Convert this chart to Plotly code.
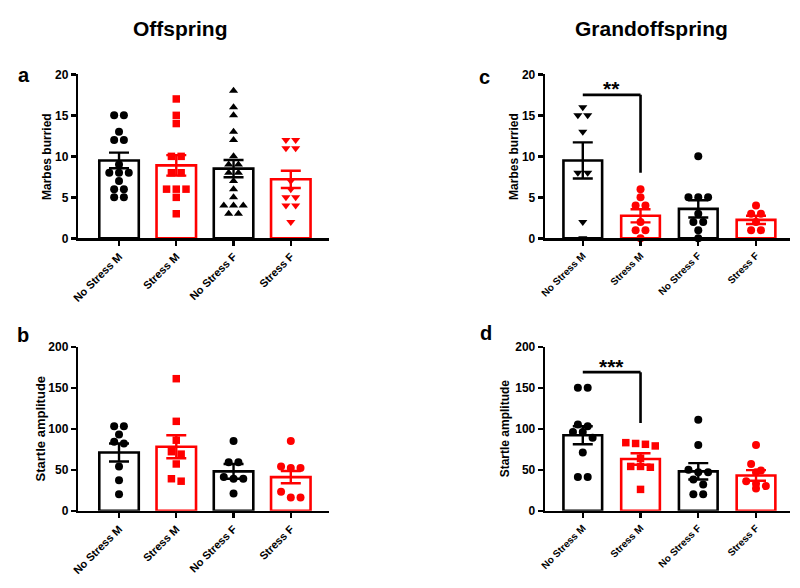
import plotly.graph_objects as go

# ---------------- data ----------------
groups = ["No Stress M", "Stress M", "No Stress F", "Stress F"]

# Panel a: Offspring, marbles buried
a_nsm = [15, 15, 13, 12, 12, 9, 8, 8, 8, 7, 6, 6, 5, 5]
a_sm = [17, 15, 14, 10, 10, 8, 8, 6, 6, 6, 5, 3]
a_nsf = [18, 16, 15, 13, 12, 10, 9, 9, 8, 8, 7, 6, 5, 4, 4, 4, 3, 3]
a_sf = [12, 12, 11, 11, 7, 6, 5, 5, 4, 4, 2]
a_mean = [9.5, 8.9, 8.5, 7.2]
a_sem = [0.95, 1.25, 1.05, 1.05]

# Panel b: Offspring, startle amplitude
b_nsm = [103, 103, 93, 84, 82, 54, 37, 20]
b_sm = [161, 109, 86, 72, 69, 57, 39, 36]
b_nsf = [85, 59, 59, 41, 39, 39, 21]
b_sf = [85, 54, 52, 52, 23, 16, 16]
b_mean = [71, 78, 48, 41]
b_sem = [11, 14, 9, 7.5]

# Panel c: Grandoffspring, marbles buried
c_nsm = [16, 15, 15, 13, 8, 8, 2, 0]
c_sm = [6, 5, 4, 4, 2, 1, 1, 0]
c_nsf = [10, 5, 5, 5, 3, 2, 2, 1, 0]
c_sf = [4, 3, 3, 2, 1, 1]
c_mean = [9.5, 2.75, 3.6, 2.25]
c_sem = [2.2, 0.8, 1.05, 0.5]

# Panel d: Grandoffspring, startle amplitude
d_nsm = [150, 150, 105, 103, 96, 96, 89, 71, 41, 41]
d_sm = [83, 82, 81, 79, 64, 54, 54, 53, 26]
d_nsf = [111, 80, 50, 47, 47, 38, 32, 20, 20]
d_sf = [80, 57, 49, 47, 36, 33, 30, 27]
d_mean = [92, 63, 48, 43]
d_sem = [11, 7, 10, 6.5]

# significance brackets: (from group, to group, height, drop-to, label)
c_sig = (0, 1, 17.5, 8, "**")
d_sig = (0, 1, 169, 107, "***")

# ---------------- styling ----------------
BLACK = "#000000"
RED = "#ff0000"
colors = [BLACK, RED, BLACK, RED]
FONT = "Liberation Sans, Arial, sans-serif"

def swarm(vals, tol, step):
    order = sorted(range(len(vals)), key=lambda i: -vals[i])
    offs = [0.0] * len(vals)
    clusters = []
    for i in order:
        if clusters and clusters[-1][0] - vals[i] < tol:
            clusters[-1][1].append(i)
        else:
            clusters.append([vals[i], [i]])
    for _, idx in clusters:
        n = len(idx)
        for k, i in enumerate(idx):
            offs[i] = (k - (n - 1) / 2) * step
    return offs

fig = go.Figure()

panels = [
    dict(xa="x", ya="y", data=[a_nsm, a_sm, a_nsf, a_sf], mean=a_mean, sem=a_sem,
         sym=["circle", "square", "triangle-up", "triangle-down"], tol=0.9, bw=0.69),
    dict(xa="x2", ya="y2", data=[c_nsm, c_sm, c_nsf, c_sf], mean=c_mean, sem=c_sem,
         sym=["triangle-down", "circle", "circle", "circle"], tol=0.9, bw=0.67),
    dict(xa="x3", ya="y3", data=[b_nsm, b_sm, b_nsf, b_sf], mean=b_mean, sem=b_sem,
         sym=["circle", "square", "circle", "circle"], tol=9, bw=0.69),
    dict(xa="x4", ya="y4", data=[d_nsm, d_sm, d_nsf, d_sf], mean=d_mean, sem=d_sem,
         sym=["circle", "square", "circle", "circle"], tol=9, bw=0.67),
]

for p in panels:
    for gi in range(4):
        fig.add_trace(go.Bar(
            x=[gi], y=[p["mean"][gi]], width=p["bw"], xaxis=p["xa"], yaxis=p["ya"],
            marker=dict(color="rgba(255,255,255,0)", line=dict(color=colors[gi], width=2.6)),
            error_y=dict(type="data", array=[p["sem"][gi]], color=colors[gi], thickness=2.4, width=10),
            showlegend=False, hoverinfo="skip"))
    for gi in range(4):
        vals = p["data"][gi]
        offs = swarm(vals, p["tol"], 0.17)
        fig.add_trace(go.Scatter(
            x=[gi + o for o in offs], y=vals, mode="markers", xaxis=p["xa"], yaxis=p["ya"],
            marker=dict(symbol=p["sym"][gi], size=8 if p["sym"][gi] != "square" else 7.5,
                        color=colors[gi], line=dict(width=0)),
            cliponaxis=False, showlegend=False, hoverinfo="skip"))

W, H = 800, 588
def xd(l, r):
    return [l / W, r / W]
def yd(top, bot):
    return [1 - bot / H, 1 - top / H]

def xaxis(dom, rng, anchor, fs):
    return dict(domain=dom, range=rng, anchor=anchor, tickvals=[0, 1, 2, 3], ticktext=groups,
                tickangle=-45, showline=True, linewidth=2.6, linecolor=BLACK, ticks="outside",
                ticklen=5, tickwidth=2.4, tickcolor=BLACK, showgrid=False, zeroline=False,
                tickfont=dict(family=FONT, size=fs, color=BLACK, weight="bold"), fixedrange=True)

def yaxis(dom, rng, dt, anchor):
    return dict(domain=dom, range=rng, anchor=anchor, dtick=dt, showline=True, linewidth=2.6,
                linecolor=BLACK, ticks="outside", ticklen=5, tickwidth=2.4, tickcolor=BLACK,
                showgrid=False, zeroline=False,
                tickfont=dict(family=FONT, size=12, color=BLACK, weight="bold"), fixedrange=True)

fig.update_layout(
    width=W, height=H, margin=dict(l=0, r=0, t=0, b=0),
    paper_bgcolor="white", plot_bgcolor="rgba(0,0,0,0)", barmode="overlay",
    xaxis=xaxis(xd(72, 325), [-0.71, 3.67], "y", 11),
    yaxis=yaxis(yd(69, 237), [0, 20], 5, "x"),
    xaxis2=xaxis(xd(543, 790), [-0.65, 3.59], "y2", 10),
    yaxis2=yaxis(yd(69, 237), [0, 20], 5, "x2"),
    xaxis3=xaxis(xd(72, 325), [-0.71, 3.67], "y3", 11),
    yaxis3=yaxis(yd(348, 516), [0, 200], 50, "x3"),
    xaxis4=xaxis(xd(543, 790), [-0.65, 3.59], "y4", 10),
    yaxis4=yaxis(yd(348, 516), [0, 200], 50, "x4"),
)

# significance brackets
for sig, xa, ya in [(c_sig, "x2", "y2"), (d_sig, "x4", "y4")]:
    g0, g1, top, drop, lab = sig
    fig.add_shape(type="line", xref=xa, yref=ya, x0=g0, x1=g1, y0=top, y1=top,
                  line=dict(color=BLACK, width=2.6))
    fig.add_shape(type="line", xref=xa, yref=ya, x0=g1, x1=g1, y0=top, y1=drop,
                  line=dict(color=BLACK, width=2.6))
    fig.add_annotation(xref=xa, yref=ya, x=(g0 + g1) / 2, y=top, text=lab, showarrow=False,
                       yanchor="middle", yshift=6,
                       font=dict(family=FONT, size=21, color=BLACK, weight="bold"))

def ann(x, y, text, size, angle=0):
    fig.add_annotation(xref="paper", yref="paper", x=x / W, y=1 - y / H, text=text,
                       showarrow=False, textangle=angle, xanchor="center", yanchor="middle",
                       font=dict(family=FONT, size=size, color=BLACK, weight="bold"))

ann(175, 22, "Offspring", 21)
ann(650, 22, "Grandoffspring", 21)
ann(17, 70, "a", 20)
ann(482, 72, "c", 20)
ann(16, 336, "b", 20)
ann(483, 334, "d", 20)
ann(41, 153, "Marbes burried", 12, -90)
ann(512, 153, "Marbes burried", 12, -90)
ann(34, 432, "Startle amplitude", 13, -90)
ann(502, 432, "Startle amplitude", 12, -90)

fig.write_html("out.html", config={"displayModeBar": False, "staticPlot": True},
               post_script="document.body.style.margin='0';document.body.style.overflow='hidden';")
